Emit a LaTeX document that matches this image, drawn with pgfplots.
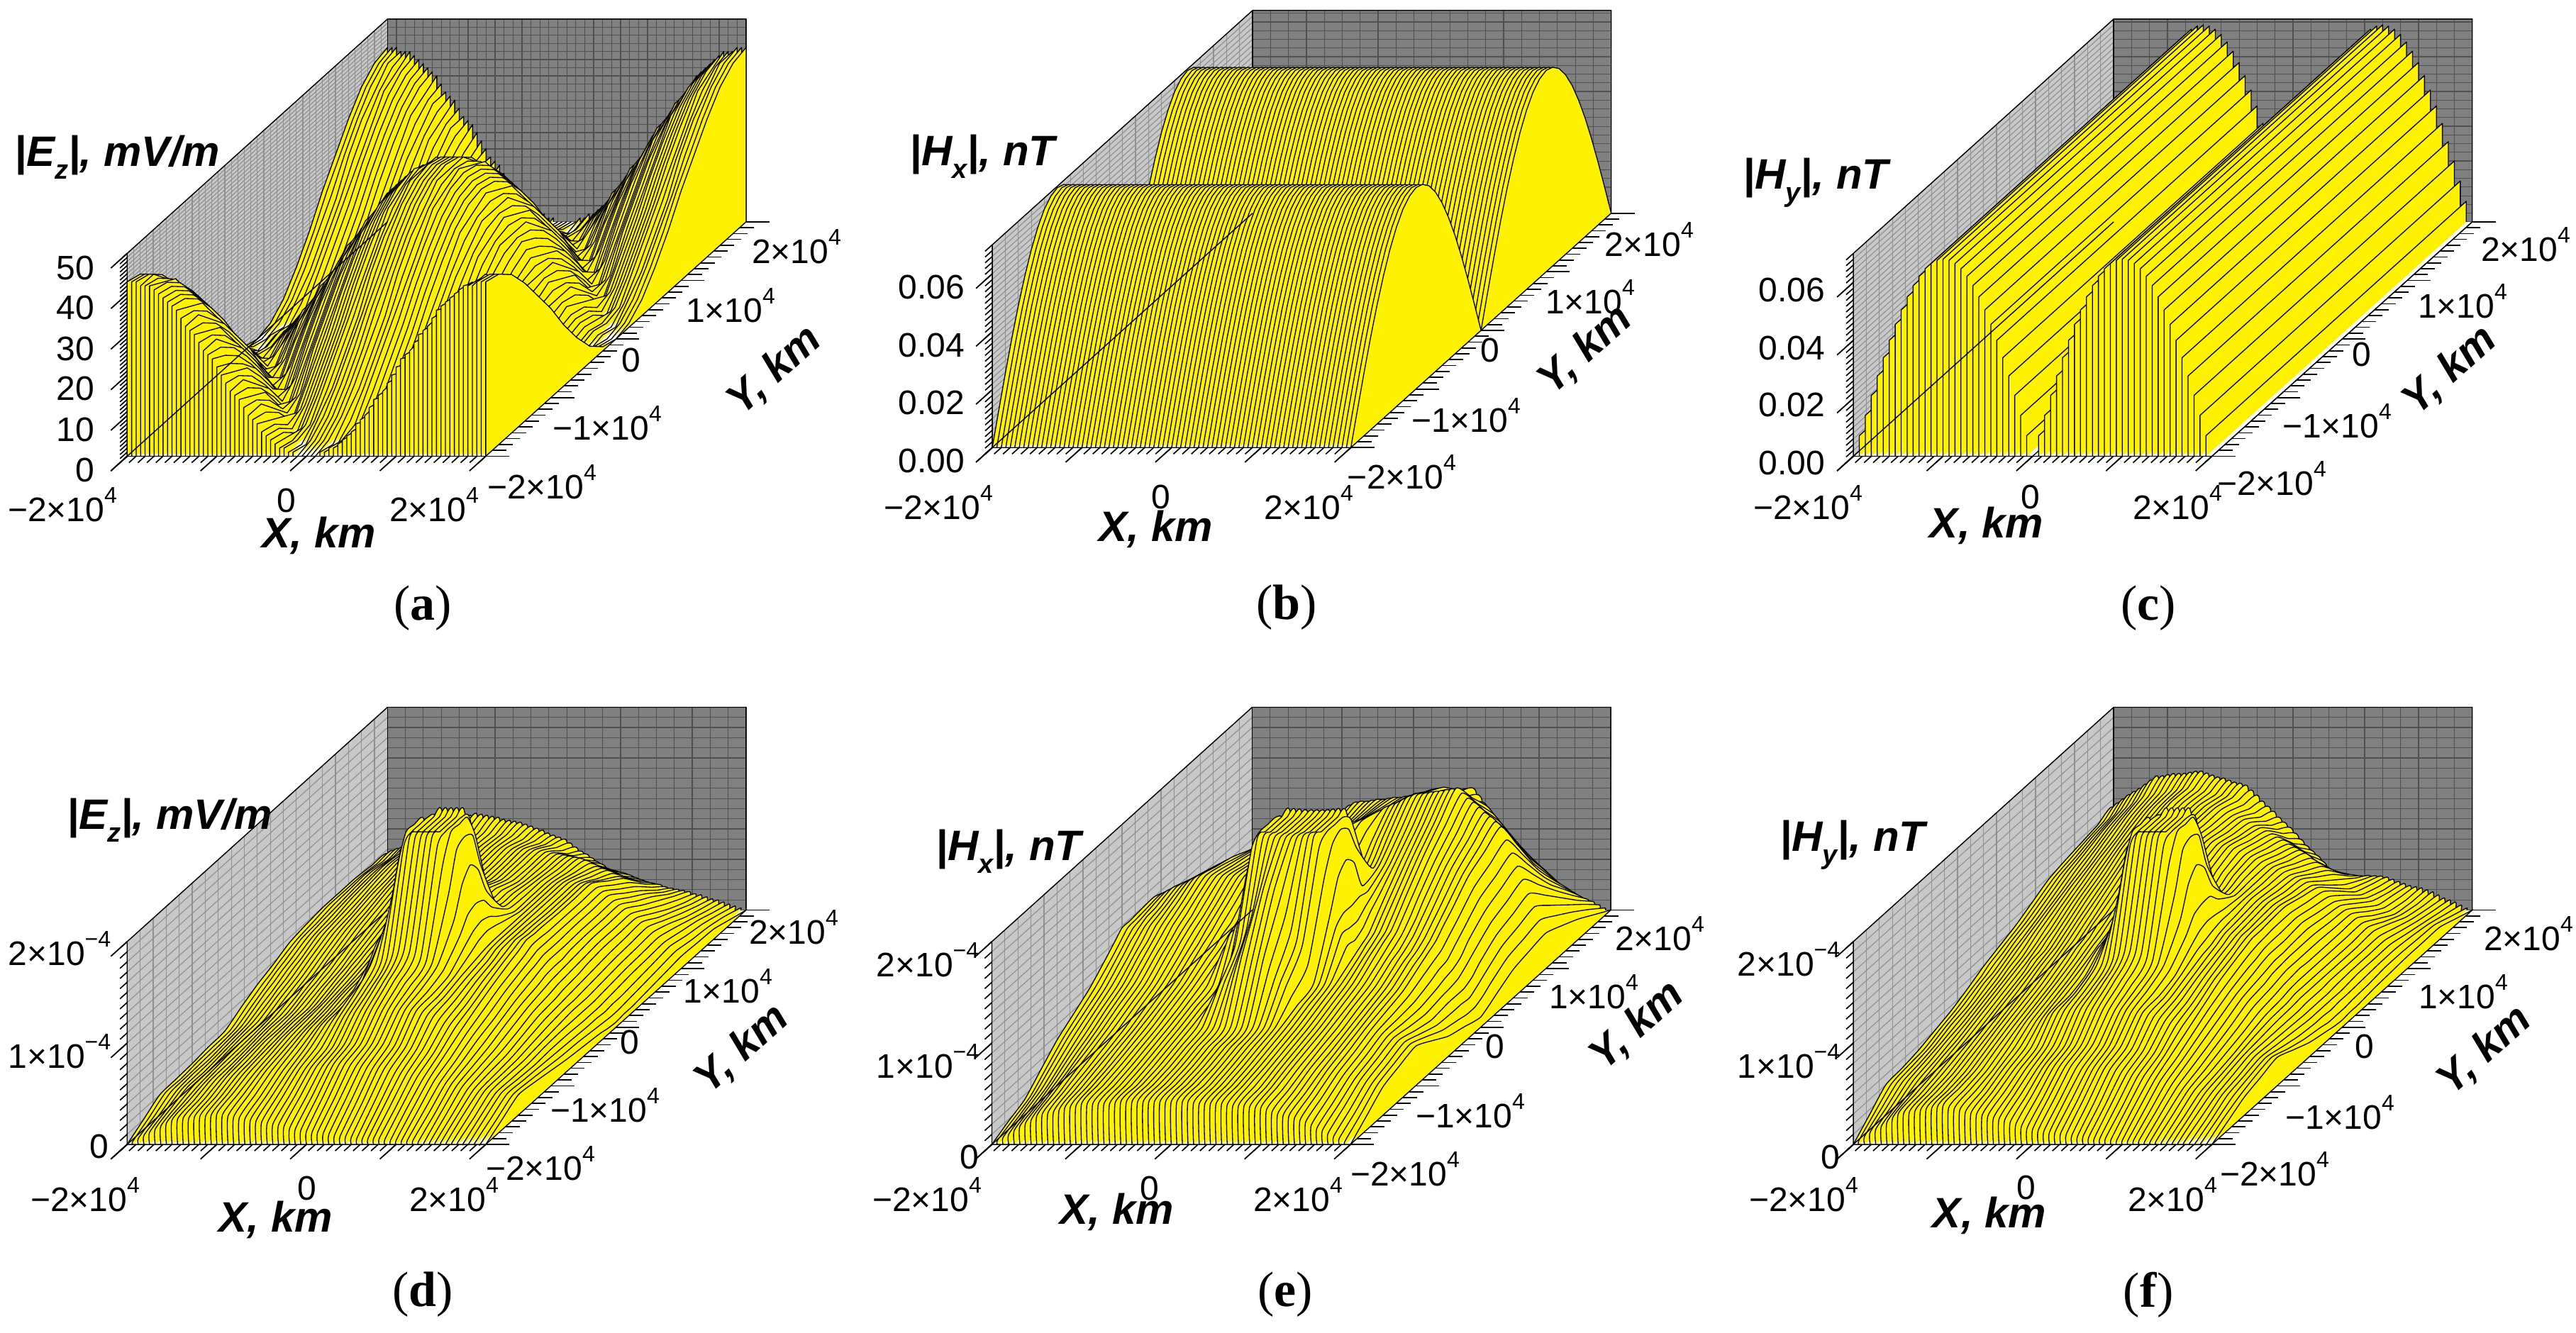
\documentclass[border=0pt]{standalone}
\usepackage{fontspec}
\usepackage{pgfplots}
\usepackage{pgfplotstable}
\pgfplotsset{compat=1.18}
\setmainfont{Liberation Sans}
\newfontfamily\capfont{Liberation Serif}
\definecolor{wallL}{HTML}{C8C8C8}
\definecolor{wallB}{HTML}{808080}
\definecolor{gridL}{HTML}{909090}
\definecolor{gridB}{HTML}{505050}
\pgfplotsset{
  slc/.style={fill=yellow,draw=black,line width=0.33pt,line join=round,mark=none,solid},
  slcs/.style={slc,smooth,tension=0.35},
  cube/.style={hide axis,clip=false,anchor=origin,xmin=-2,xmax=2,ymin=-2,ymax=2,zmin=0},
}
\pgfplotstableread[header=false]{
-2 0 0 0 0 0 0 0 0 0 0 0 0 0 0 0 0 0 0 0 0 0 0 0 0 0 0 0 0 0 0 0 0 0 0 0 0 0 0 0 0 0
-2 0 0 0 1 1 2 2 3 4 5 6 8 9 10 12 14 15 16 18 20 22 24 25 26 28 30 31 32 34 36 37 38 39 40 41 42 42 42 43 43 43
-1.8 1 1 1 0 0 1 1 2 3 4 5 6 8 10 11 12 14 16 17 18 20 22 24 26 27 28 30 32 33 34 36 37 38 39 40 40 41 42 42 42 42
-1.6 4 4 4 4 3 2 2 1 0 1 2 4 5 6 8 10 11 12 14 16 17 19 21 22 24 26 27 28 30 32 33 34 35 36 37 38 38 38 39 39 39
-1.4 9 9 9 8 8 8 7 6 5 4 3 2 0 2 3 4 6 8 9 11 13 14 16 18 19 20 22 24 25 26 28 29 30 31 32 32 33 34 34 34 34
-1.2 15 15 15 14 14 14 13 12 11 10 9 8 6 4 3 2 0 2 3 5 7 8 10 12 13 14 16 18 19 20 22 23 24 25 26 26 27 28 28 28 28
-1 22 22 21 20 20 20 19 18 17 16 15 14 13 12 10 8 7 5 3 2 0 2 3 5 7 8 10 12 13 14 15 16 17 18 19 20 20 20 21 22 22
-0.8 28 28 28 28 27 26 26 25 24 23 22 20 19 18 16 14 13 12 10 8 7 5 3 2 0 2 3 4 6 8 9 10 11 12 13 14 14 14 15 15 15
-0.6 34 34 34 34 33 32 32 31 30 29 28 26 25 24 22 20 19 18 16 14 13 11 9 8 6 4 3 2 0 2 3 4 5 6 7 8 8 8 9 9 9
-0.4 39 39 39 38 38 38 37 36 35 34 33 32 30 28 27 26 24 22 21 19 17 16 14 12 11 10 8 6 5 4 2 1 0 1 2 2 3 4 4 4 4
-0.2 42 42 42 42 41 40 40 39 38 37 36 34 33 32 30 28 27 26 24 22 20 18 17 16 14 12 11 10 8 6 5 4 3 2 1 1 0 0 1 1 1
0 43 43 43 42 42 42 41 40 39 38 37 36 34 32 31 30 28 26 25 24 22 20 18 16 15 14 12 10 9 8 6 5 4 3 2 2 1 1 0 0 0
0.2 42 42 42 42 41 40 40 39 38 37 36 34 33 32 30 28 27 26 24 22 20 18 17 16 14 12 11 10 8 6 5 4 3 2 1 1 0 0 1 1 1
0.4 39 39 39 38 38 38 37 36 35 34 33 32 30 28 27 26 24 22 21 19 17 16 14 12 11 10 8 6 5 4 2 1 0 1 2 2 3 4 4 4 4
0.6 34 34 34 34 33 32 32 31 30 29 28 26 25 24 22 20 19 18 16 14 13 11 9 8 6 4 3 2 0 2 3 4 5 6 7 8 8 8 9 9 9
0.8 28 28 28 28 27 26 26 25 24 23 22 20 19 18 16 14 13 12 10 8 7 5 3 2 0 2 3 4 6 8 9 10 11 12 13 14 14 14 15 15 15
1 22 22 21 20 20 20 19 18 17 16 15 14 13 12 10 8 7 5 3 2 0 2 3 5 7 8 10 12 13 14 15 16 17 18 19 20 20 20 21 22 22
1.2 15 15 15 14 14 14 13 12 11 10 9 8 6 4 3 2 0 2 3 5 7 8 10 12 13 14 16 18 19 20 22 23 24 25 26 26 27 28 28 28 28
1.4 9 9 9 8 8 8 7 6 5 4 3 2 0 2 3 4 6 8 9 11 13 14 16 18 19 20 22 24 25 26 28 29 30 31 32 32 33 34 34 34 34
1.6 4 4 4 4 3 2 2 1 0 1 2 4 5 6 8 10 11 12 14 16 17 19 21 22 24 26 27 28 30 32 33 34 35 36 37 38 38 38 39 39 39
1.8 1 1 1 0 0 1 1 2 3 4 5 6 8 10 11 12 14 16 17 18 20 22 24 26 27 28 30 32 33 34 36 37 38 39 40 40 41 42 42 42 42
2 0 0 0 1 1 2 2 3 4 5 6 8 9 10 12 14 15 16 18 20 22 24 25 26 28 30 31 32 34 36 37 38 39 40 41 42 42 42 43 43 43
2 0 0 0 0 0 0 0 0 0 0 0 0 0 0 0 0 0 0 0 0 0 0 0 0 0 0 0 0 0 0 0 0 0 0 0 0 0 0 0 0 0
}\tA
\pgfplotstableread[header=false]{
-2 0
-1.9 10.9
-1.8 21.5
-1.7 31.6
-1.6 40.9
-1.5 49.1
-1.4 56.2
-1.3 61.9
-1.2 66.1
-1.1 68.6
-1 69.5
-0.9 68.6
-0.8 66.1
-0.7 61.9
-0.6 56.2
-0.5 49.1
-0.4 40.9
-0.3 31.6
-0.2 21.5
-0.1 10.9
0 0
0.1 10.9
0.2 21.5
0.3 31.6
0.4 40.9
0.5 49.1
0.6 56.2
0.7 61.9
0.8 66.1
0.9 68.6
1 69.5
1.1 68.6
1.2 66.1
1.3 61.9
1.4 56.2
1.5 49.1
1.6 40.9
1.7 31.6
1.8 21.5
1.9 10.9
2 0
}\tB
\pgfplotstableread[header=false]{
-2 0 0 0 0 0 0 0 0 0 0 0 0 0 0 0 0
-2 0 7.1 14.1 21 27.7 34 40 45.5 50.5 55 58.9 62.1 64.7 66.5 67.6 68
2 0 7.1 14.1 21 27.7 34 40 45.5 50.5 55 58.9 62.1 64.7 66.5 67.6 68
2 0 0 0 0 0 0 0 0 0 0 0 0 0 0 0 0
}\tC
\pgfplotstableread[header=false]{
-2 0 0 0 0 0 0 0 0  0 0 0 0 0 0 0 0  0 0 0 0 0 0 0 0  0 0 0 0 0 0 0 0  0 0 0 0 0 0 0 0  0 0 0 0 0 0 0 0  0 0 0 0 0 0 0 0  0 0 0 0 0 0 0 0  0
-2 0 3 6 9 12 15 18 21  24 25 26 26 27 28 28 29  30 29 28 27 26 25 24 23  22 21 20 19 18 16 15 14  13 12 12 11 10 9 8 8  7 6 6 6 6 6 5 4  4 4 4 4 3 2 2 2  2 2 2 2 1 1 1 0  0
-1.75 10 12 14 16 19 22 24 26  28 29 30 31 32 33 34 35  36 36 36 36 35 34 34 34  34 34 33 33 33 32 32 32  32 31 30 30 29 28 27 26  26 25 24 24 23 22 22 21  20 19 18 17 16 16 15 14  14 14 13 12 12 12 11 10  10
-1.5 20 22 23 24 26 28 29 30  32 34 35 36 38 39 40 41  42 42 43 44 44 44 44 44  45 46 46 47 48 48 49 50  50 50 49 48 48 47 46 46  45 44 42 41 40 39 38 36  35 34 32 31 30 29 28 26  25 24 24 23 22 22 21 20  20
-1.25 21 22 24 26 27 28 30 32  34 35 36 38 40 41 42 44  45 46 47 48 49 50 50 51  52 52 52 52 53 54 55 56  56 56 56 56 56 56 55 54  54 53 52 51 50 48 47 46  45 42 40 38 36 34 32 30  28 26 25 24 22 21 20 19  18
-1 22 24 25 26 28 30 32 34  35 36 38 40 42 44 45 46  48 50 51 52 54 56 57 60  62 64 66 68 70 72 73 74  75 75 75 75 75 75 75 74  74 72 70 68 65 62 60 58  55 52 49 46 42 39 36 33  30 28 26 24 22 20 19 17  15
-0.75 24 25 26 28 30 32 34 35  36 38 40 42 43 44 46 48  49 51 53 54 56 58 60 62  64 72 76 78 80 82 85 86  88 88 87 86 84 82 81 78  76 74 73 72 70 68 66 65  64 60 56 52 49 46 42 38  35 32 29 26 24 21 18 15  12
-0.5 25 26 28 30 32 34 35 36  38 40 41 42 44 46 47 48  50 52 55 57 59 62 64 66  68 79 90 92 95 98 102 104  105 104 102 98 95 92 90 85  80 79 78 77 76 75 74 73  72 68 64 60 56 52 48 44  40 36 32 28 25 21 17 14  10
-0.25 34 35 36 38 39 40 42 43  44 45 46 48 50 51 52 54  55 57 59 60 62 64 66 80  95 104 120 145 175 192 200 200  200 200 200 192 175 145 120 104  95 88 82 81 80 80 80 80  79 74 70 66 61 56 52 47  42 38 34 30 25 20 16 12  8
-0.125 38 39 40 42 42 44 45 46  47 48 50 51 52 54 54 56  58 59 61 62 64 66 68 93  102 118 148 182 200 200 200 200  200 200 200 200 200 182 148 118  102 93 84 84 84 84 83 83  82 77 73 68 64 59 54 49  44 39 34 30 25 20 16 11  6
0 42 43 44 45 46 47 48 49  50 51 52 54 55 56 57 58  60 62 63 64 66 68 69 95  105 122 160 188 200 200 200 200  200 200 200 200 200 188 160 122  105 95 85 85 85 85 86 86  86 81 76 71 66 60 55 50  45 40 35 30 25 20 15 10  5
0.125 45 46 48 49 50 51 52 53  54 55 56 58 58 60 60 62  63 64 66 67 68 70 72 93  102 118 148 182 200 200 200 200  200 200 200 200 200 182 148 118  102 93 85 85 85 85 85 85  85 81 76 71 66 60 56 51  46 41 36 31 26 21 16 10  6
0.25 48 50 51 52 53 54 56 57  58 59 60 61 62 63 64 65  66 67 68 70 71 72 74 84  95 104 120 145 175 192 200 200  200 200 200 192 175 145 120 104  95 90 85 85 85 85 85 85  85 80 76 71 66 62 57 52  48 42 37 32 27 22 16 11  6
0.5 55 56 58 59 60 62 63 64  65 66 67 68 69 70 70 71  72 73 74 75 76 77 78 79  80 85 90 92 95 98 102 104  105 104 102 98 95 92 90 88  85 85 85 85 85 84 84 84  84 80 76 72 67 63 59 54  50 44 39 34 29 24 18 13  8
0.75 58 59 60 62 63 64 66 67  68 70 71 72 74 75 76 77  78 79 80 80 81 82 82 83  84 86 89 90 92 94 95 96  96 95 94 92 90 89 88 86  85 85 85 85 85 84 84 84  84 80 76 72 67 63 59 54  50 45 40 35 30 25 20 15  10
1 60 62 63 64 66 68 69 70  72 74 75 77 79 80 82 84  85 86 86 86 86 86 87 88  88 88 88 88 88 88 88 88  88 88 87 86 86 86 86 86  85 85 85 85 85 84 84 84  84 80 76 72 67 63 59 54  50 46 41 36 31 26 22 17  12
1.25 60 62 64 66 68 70 72 74  75 76 78 80 82 83 84 86  88 88 88 88 88 88 88 88  89 89 89 88 88 88 88 88  88 87 86 86 85 84 84 83  82 81 80 79 78 76 74 73  72 68 64 60 56 52 48 44  40 36 33 30 26 22 18 14  11
1.5 60 62 65 67 69 72 74 76  78 80 81 82 84 86 87 88  90 90 90 90 90 90 90 90  90 90 90 90 89 89 89 88  88 87 86 85 84 83 82 81  80 78 75 72 70 68 65 62  60 56 52 48 45 42 38 34  30 28 25 22 20 18 15 12  10
1.75 58 60 62 64 67 70 72 74  76 78 80 82 84 86 88 90  92 92 91 90 90 89 88 88  88 87 86 84 83 82 80 79  78 76 73 70 68 66 64 62  59 57 55 53 51 48 46 44  42 40 37 34 32 30 28 25  22 20 18 16 14 12 10 8  5
2 55 58 60 62 65 68 70 72  75 78 80 82 85 87 89 92  94 93 92 91 90 88 87 86  85 83 81 79 77 74 72 70  68 64 60 56 53 49 45 42  38 36 35 34 32 30 28 26  25 24 22 21 20 19 18 16  15 13 11 10 8 6 4 2  0
2 0 0 0 0 0 0 0 0  0 0 0 0 0 0 0 0  0 0 0 0 0 0 0 0  0 0 0 0 0 0 0 0  0 0 0 0 0 0 0 0  0 0 0 0 0 0 0 0  0 0 0 0 0 0 0 0  0 0 0 0 0 0 0 0  0
}\tD
\pgfplotstableread[header=false]{
-2 0 0 0 0 0 0 0 0  0 0 0 0 0 0 0 0  0 0 0 0 0 0 0 0  0 0 0 0 0 0 0 0  0 0 0 0 0 0 0 0  0 0 0 0 0 0 0 0  0 0 0 0 0 0 0 0  0 0 0 0 0 0 0 0  0
-2 0 4 7 10 14 18 21 24  28 30 31 32 34 36 37 38  40 40 40 40 40 40 41 42  42 42 42 42 42 42 42 42  42 42 42 42 41 40 40 40  40 40 39 38 38 38 37 36  36 34 32 30 29 28 26 24  22 19 16 14 11 8 6 3  0
-1.75 8 11 14 18 21 24 28 32  35 36 38 39 40 41 42 43  44 44 44 44 44 44 44 44  45 45 45 45 45 45 45 45  45 45 45 44 44 44 44 44  44 44 44 44 43 42 42 42  42 40 39 38 37 36 35 34  32 30 27 25 23 20 18 16  14
-1.5 15 18 22 25 28 32 35 38  42 43 44 44 45 46 46 47  48 48 48 48 48 48 48 48  48 48 48 48 48 48 48 48  48 48 48 48 48 48 48 48  48 48 48 48 48 48 48 48  48 47 46 46 45 44 44 43  42 40 38 36 35 33 31 30  28
-1.25 30 32 35 37 39 42 44 46  48 49 50 50 50 51 52 52  53 53 53 53 53 53 53 53  53 53 53 53 53 53 53 53  53 53 53 53 53 53 53 53  53 53 53 53 53 53 53 53  53 52 52 51 50 50 50 49  48 46 44 42 41 39 37 36  34
-1 45 46 48 49 50 51 52 54  55 56 56 56 56 56 57 58  58 58 58 58 58 58 58 58  58 58 58 58 58 58 58 58  58 58 58 58 58 58 58 58  58 58 58 58 58 58 58 58  58 58 57 56 56 56 56 56  55 53 51 49 47 45 43 41  39
-0.75 56 57 58 59 60 61 62 63  64 64 64 64 64 64 64 64  65 65 65 64 64 64 64 64  64 74 84 88 92 102 112 112  112 112 112 102 92 88 84 74  65 65 65 65 65 65 65 65  65 64 64 63 62 62 62 61  60 56 52 48 44 40 37 34  30
-0.5 67 68 68 69 70 70 71 72  72 72 72 72 72 72 72 72  72 72 72 72 71 70 70 70  70 90 110 115 125 140 155 165  165 165 155 140 125 115 110 91  72 72 72 72 72 72 72 72  72 71 70 69 68 68 67 66  65 60 54 48 42 36 31 26  20
-0.25 82 82 83 84 84 85 86 86  86 86 86 86 85 84 84 84  84 83 82 81 80 92 105 112  125 162 190 200 200 200 200 200  200 200 200 200 200 200 190 162  125 112 105 94 82 82 83 84  84 82 81 80 79 78 78 76  75 68 60 52 45 38 30 22  15
-0.125 90 90 91 92 92 92 92 93  93 92 92 92 92 91 90 89  90 88 86 85 85 95 105 120  155 188 200 200 200 200 200 200  200 200 200 200 200 200 200 188  155 120 105 93 87 88 88 89  90 88 86 84 84 82 82 80  80 72 64 55 46 38 30 20  12
0 98 98 98 98 99 100 100 100  100 100 99 98 98 97 96 96  95 94 92 91 90 97 105 120  165 195 200 200 200 200 200 200  200 200 200 200 200 200 200 195  165 120 105 98 92 93 94 94  95 94 92 91 90 89 88 86  85 76 66 57 48 38 29 20  10
0.125 98 99 100 102 102 103 104 105  105 105 104 103 103 102 102 102  102 100 96 96 96 102 108 122  155 188 200 200 200 200 200 200  200 200 200 200 200 200 200 188  155 122 112 108 103 104 105 105  106 105 102 100 100 98 97 95  94 84 74 62 54 42 34 24  14
0.25 99 100 102 103 104 106 108 109  110 110 110 110 109 108 108 108  108 106 104 102 101 103 105 112  125 162 190 200 200 200 200 200  200 200 200 200 200 200 190 162  125 120 118 116 114 115 116 117  118 116 114 112 110 108 106 104  102 92 82 72 61 50 40 30  19
0.5 100 102 105 108 110 112 115 118  120 120 120 120 120 120 120 120  120 118 116 114 112 110 109 107  105 108 110 115 125 140 155 165  165 165 155 140 125 126 127 128  130 131 132 134 135 136 138 139  140 138 135 132 130 128 125 122  120 109 98 86 74 62 51 40  28
0.75 92 95 98 101 104 107 110 112  115 116 116 116 116 116 117 118  118 118 117 116 116 116 116 116  115 118 120 126 132 144 155 156  158 159 160 151 142 144 146 148  150 151 152 153 154 156 157 158  159 156 152 148 144 141 138 134  130 118 106 94 81 68 56 44  32
1 85 88 91 94 98 101 104 107  110 110 111 112 112 113 114 114  115 116 118 119 120 121 122 124  125 128 131 134 138 141 144 147  150 152 155 158 160 162 165 168  170 171 172 173 174 175 176 177  178 173 168 164 159 154 150 145  140 127 114 101 88 74 61 48  35
1.25 72 76 80 84 88 92 95 98  102 104 106 106 107 108 110 111  112 114 117 119 121 123 125 128  130 132 134 136 138 140 142 144  145 146 148 150 152 154 156 158  160 159 158 158 157 156 156 155  154 148 142 136 130 125 120 114  108 98 88 78 68 58 48 38  28
1.5 60 64 69 74 78 82 86 90  95 98 100 101 102 104 105 108  110 113 116 119 122 125 128 132  135 136 136 137 138 138 139 140  140 141 142 144 145 146 148 149  150 148 145 142 140 138 135 132  130 123 116 109 102 96 89 82  75 68 61 54 48 41 34 27  20
1.75 50 54 59 64 68 72 76 80  85 88 90 91 92 94 96 98  100 102 104 106 108 110 113 116  118 118 118 119 120 121 122 122  122 124 125 126 128 129 130 131  132 127 122 118 113 108 103 98  93 88 82 76 70 64 59 54  48 43 38 34 29 24 20 15  10
2 40 44 49 54 58 62 66 70  75 77 79 80 82 84 86 88  90 91 92 94 95 96 98 99  100 100 101 102 102 103 104 104  105 106 108 109 110 111 112 114  115 108 100 93 86 78 71 64  56 52 47 42 38 34 29 24  20 18 15 12 10 8 5 2  0
2 0 0 0 0 0 0 0 0  0 0 0 0 0 0 0 0  0 0 0 0 0 0 0 0  0 0 0 0 0 0 0 0  0 0 0 0 0 0 0 0  0 0 0 0 0 0 0 0  0 0 0 0 0 0 0 0  0 0 0 0 0 0 0 0  0
}\tE
\pgfplotstableread[header=false]{
-2 0 0 0 0 0 0 0 0  0 0 0 0 0 0 0 0  0 0 0 0 0 0 0 0  0 0 0 0 0 0 0 0  0 0 0 0 0 0 0 0  0 0 0 0 0 0 0 0  0 0 0 0 0 0 0 0  0 0 0 0 0 0 0 0  0
-2 0 4 8 12 15 18 22 26  30 31 32 33 34 35 36 37  38 36 35 34 32 31 30 29  28 26 25 24 22 20 18 16  15 14 13 12 12 11 10 9  8 8 7 6 6 6 5 4  4 4 4 4 3 3 3 2  2 2 2 2 1 1 1 0  0
-1.75 15 18 20 22 24 26 29 32  34 35 36 37 38 38 39 40  41 40 40 39 38 38 38 38  37 36 36 35 34 34 33 32  32 31 30 30 29 28 28 27  26 25 24 24 23 22 22 21  20 19 18 17 16 15 14 13  12 12 12 11 10 10 10 10  9
-1.5 30 31 32 33 34 35 36 37  38 39 40 40 41 42 42 43  44 44 44 44 45 46 46 46  46 46 46 46 47 48 48 48  48 48 47 46 46 46 46 46  45 44 42 41 40 39 38 36  35 34 32 30 28 26 25 24  22 22 21 20 20 20 19 18  18
-1.25 32 34 35 36 38 39 40 42  43 44 45 46 47 48 49 50  51 52 52 52 52 52 52 52  52 53 54 54 54 54 55 55  55 55 55 54 54 54 54 53  52 51 50 49 48 47 46 46  45 42 40 38 35 32 30 28  26 26 26 25 24 24 24 24  23
-1 35 36 38 40 42 44 45 46  48 49 50 52 53 54 56 57  58 59 60 62 63 64 66 69  72 73 74 74 75 76 76 76  76 76 75 74 74 74 73 72  72 70 68 66 64 62 60 58  55 52 49 46 42 39 36 33  30 30 30 30 29 28 28 28  28
-0.75 40 42 44 46 47 48 50 52  54 55 56 58 59 60 62 63  64 65 66 68 69 70 72 73  74 77 80 81 82 84 86 87  88 87 86 84 82 81 80 77  74 73 72 71 70 68 67 66  65 62 58 54 50 46 42 38  35 34 32 30 28 26 24 22  21
-0.5 45 47 49 50 52 54 56 58  60 61 62 64 65 66 68 69  70 71 72 74 75 76 78 79  80 85 90 92 95 98 102 104  105 104 102 98 95 92 90 85  80 80 79 78 78 77 76 76  75 70 66 62 58 54 49 44  40 37 34 30 27 24 20 17  14
-0.25 52 54 56 58 59 60 62 64  66 67 68 70 72 74 75 76  78 79 80 81 82 84 85 90  95 104 120 145 175 192 200 200  200 200 200 192 175 145 120 104  95 90 86 85 84 84 83 82  82 77 72 67 62 57 52 47  42 38 35 30 26 22 18 14  10
-0.125 56 57 59 60 62 64 66 67  69 70 73 74 75 77 78 80  82 83 85 86 86 88 89 93  102 118 148 182 200 200 200 200  200 200 200 200 200 182 148 118  102 93 88 88 87 87 86 86  85 80 74 70 64 60 54 49  44 40 36 31 26 22 18 12  8
0 60 62 63 64 66 68 69 70  72 74 75 76 78 80 82 84  85 86 88 89 90 91 92 96  105 122 160 188 200 200 200 200  200 200 200 200 200 188 160 122  105 96 92 92 91 90 90 89  88 82 77 72 66 61 56 50  45 40 36 31 26 22 17 12  7
0.125 63 65 66 68 70 72 73 75  76 78 80 81 83 85 87 89  90 91 94 95 94 96 96 100  108 122 150 182 200 200 200 200  200 200 200 200 200 182 150 122  104 98 94 93 92 91 90 90  88 83 78 72 66 62 56 51  45 40 36 31 26 22 18 12  8
0.25 66 68 70 72 73 76 78 80  81 82 84 86 88 90 92 94  95 96 98 98 99 100 101 106  110 114 125 145 175 192 200 200  200 200 200 192 175 145 125 112  102 98 95 94 93 92 91 90  89 84 78 72 67 62 56 50  45 40 36 32 27 22 18 13  8
0.5 72 74 76 78 80 83 86 88  90 92 94 96 98 100 101 103  105 106 107 108 108 109 110 111  112 112 111 110 110 110 109 108  108 107 106 105 104 103 102 101  100 99 98 96 95 94 92 91  90 84 79 74 68 62 56 50  45 40 36 32 28 24 19 14  10
0.75 80 82 84 86 88 90 93 96  98 100 102 104 106 108 110 112  115 116 116 117 118 119 120 120  121 120 120 119 118 117 116 115  114 112 110 108 107 106 104 102  100 98 96 94 92 90 88 86  85 80 75 70 65 60 55 50  45 40 36 32 28 24 20 16  11
1 88 90 92 94 96 98 100 102  105 108 110 112 115 118 120 122  125 126 126 127 128 128 129 130  130 129 128 126 125 124 122 121  120 118 115 112 110 108 105 102  100 98 95 92 90 88 85 82  80 76 71 66 62 58 54 50  45 41 37 32 28 24 20 16  12
1.25 92 94 96 99 102 104 107 110  112 114 117 120 122 124 126 128  130 130 130 130 130 130 130 130  130 128 126 124 122 120 118 116  115 112 110 107 104 101 98 95  92 89 86 82 79 76 72 68  65 62 58 54 50 46 42 38  35 32 30 26 23 20 18 15  12
1.5 95 98 101 104 108 111 114 117  120 122 124 126 128 130 131 133  135 134 134 133 132 132 131 130  130 128 125 122 120 118 115 112  110 107 104 101 98 94 91 88  85 80 76 72 68 64 59 54  50 47 44 41 38 34 31 28  25 24 22 20 18 16 15 14  12
1.75 98 101 104 108 112 115 118 122  125 126 128 129 130 131 132 133  134 133 132 131 130 128 127 126  125 122 118 114 110 106 102 98  94 90 85 80 76 72 68 63  58 56 54 52 50 48 46 44  42 40 37 34 32 30 27 24  22 20 18 16 14 12 10 8  6
2 100 104 108 112 115 118 122 126  130 130 131 132 132 132 133 134  134 132 130 128 127 125 123 122  120 115 110 104 99 94 88 83  78 72 66 60 55 50 44 38  32 32 32 32 32 32 33 33  33 32 30 28 26 24 23 22  20 18 15 12 10 8 5 2  0
2 0 0 0 0 0 0 0 0  0 0 0 0 0 0 0 0  0 0 0 0 0 0 0 0  0 0 0 0 0 0 0 0  0 0 0 0 0 0 0 0  0 0 0 0 0 0 0 0  0 0 0 0 0 0 0 0  0 0 0 0 0 0 0 0  0
}\tF
% one curtain per x value
\newcommand\slc[3]{\addplot3[slc,forget plot] table[x expr={#2},y index=0,z index=#1]{#3};}
% the walls, their grids and the ticks
\newcommand\chrome[6]{%
 \fill[wallL] (axis cs:-2,-2,0)--(axis cs:-2,2,0)--(axis cs:-2,2,#1)--(axis cs:-2,-2,#1)--cycle;
 \fill[wallB] (axis cs:-2,2,0)--(axis cs:2,2,0)--(axis cs:2,2,#1)--(axis cs:-2,2,#1)--cycle;
 \pgfplotsinvokeforeach{#4}{%
  \draw[gridL,line width=0.3pt] (axis cs:-2,##1,0)--(axis cs:-2,##1,#1);
  \draw[gridB,line width=0.3pt] (axis cs:##1,2,0)--(axis cs:##1,2,#1);}
 \pgfplotsinvokeforeach{#2}{\draw[gridL,line width=0.3pt] (axis cs:-2,-2,##1)--(axis cs:-2,2,##1);}
 \pgfplotsinvokeforeach{#3}{\draw[gridB,line width=0.3pt] (axis cs:-2,2,##1)--(axis cs:2,2,##1);}
 \pgfplotsinvokeforeach{-2,-1.9,...,2}{%
  \draw[black,line width=0.42pt] (axis cs:##1,-2,0)--(axis cs:##1,-2.11,0);
  \draw[black,line width=0.42pt] (axis cs:2,##1,0)--(axis cs:2.16,##1,0);}
 \pgfplotsinvokeforeach{-2,-1,0,1,2}{%
  \draw[black,line width=0.45pt] (axis cs:##1,-2,0)--(axis cs:##1,-2.25,0);
  \draw[black,line width=0.45pt] (axis cs:2,##1,0)--(axis cs:2.26,##1,0);}
 \pgfplotsinvokeforeach{#5}{\draw[black,line width=0.42pt] (axis cs:-2,-2,##1)--(axis cs:-2,-2.11,##1);}
 \pgfplotsinvokeforeach{#6}{\draw[black,line width=0.45pt] (axis cs:-2,-2,##1)--(axis cs:-2,-2.25,##1);}
 \draw[black,line width=0.35pt] (axis cs:-2,-2,0)--(axis cs:-2,-2,#1)--(axis cs:-2,2,#1)--(axis cs:2,2,#1)--(axis cs:2,2,0);
 \draw[black,line width=0.35pt] (axis cs:-2,2,0)--(axis cs:-2,2,#1);
}
\newcommand\flr{%
 \draw[black,line width=0.35pt] (axis cs:-2,-2,0)--(axis cs:-2,2,0);
 \draw[black,line width=0.35pt] (axis cs:-2,-2,0)--(axis cs:2,-2,0)--(axis cs:2,2,0);
}
\newcommand\curtains[1]{%
 \pgfplotsinvokeforeach{1,...,65}{%
  \addplot3[slcs,forget plot] table[x expr={-2+(##1-1)/16},y index=0,z index=##1]{#1};}
}
% text placed at pixel positions of the 3632x1880 frame
\newcommand\tkf{\fontsize{12}{12}\selectfont}
\newcommand\ttf{\fontsize{15}{16}\selectfont\bfseries\itshape}
\newcommand\EE[2]{#1×10\raisebox{0.55em}{\fontsize{8}{8}\selectfont #2}}
\newcommand\tkc[3]{\node[inner sep=0pt,anchor=center] at ({#1*0.25pt},{(1880-#2)*0.25pt}) {\tkf #3};}
\newcommand\tkr[3]{\node[inner sep=0pt,anchor=east] at ({#1*0.25pt},{(1880-#2)*0.25pt}) {\tkf #3};}
\newcommand\ttl[3]{\node[inner sep=0pt,anchor=center] at ({#1*0.25pt},{(1880-#2)*0.25pt}) {\ttf #3};}
\newcommand\tky[2]{\node[inner sep=0pt,anchor=center,rotate=42] at ({#1*0.25pt},{(1880-#2)*0.25pt}) {\ttf Y, km};}
\newcommand\capn[3]{\node[inner sep=0pt,anchor=center] at ({#1*0.25pt},{(1880-#2)*0.25pt}) {\capfont\fontsize{17.5}{18}\selectfont (\textbf{#3})};}
\newcommand\sbs[1]{\raisebox{-0.3em}{\fontsize{9.5}{10}\selectfont #1}}
\begin{document}
\begin{tikzpicture}
\path[use as bounding box] (0pt,0pt) rectangle (908pt,470pt);
% (a)
\begin{axis}[cube,at={(153.9pt,350.45pt)},x={(31.6pt,0pt)},y={(22.94pt,20.66pt)},z={(0pt,1.43pt)},zmax=50]
\chrome{50}{0,1,...,50}{0,2,...,50}{-2,-1.9,...,2}{0,1,...,50}{0,10,...,50}
\pgfplotsinvokeforeach{41,40,...,2}{\slc{#1}{-0.05*(#1-1)}{\tA}}
\pgfplotsinvokeforeach{1,...,41}{\slc{#1}{0.05*(#1-1)}{\tA}}
\flr
\end{axis}
% (b)
\begin{axis}[cube,at={(458.84pt,353.5pt)},x={(31.6pt,0pt)},y={(22.94pt,20.66pt)},z={(0pt,1.0214pt)},zmax=70]
\chrome{70}{0,2,...,70}{0,3,...,69}{-2,-1.8,...,2}{0,2,...,70}{0,20,40,60}
\pgfplotsinvokeforeach{0,...,80}{\addplot3[slc,forget plot] table[x expr={-2+0.05*#1},y index=0,z index=1]{\tB};}
\flr
\end{axis}
% (c)
\begin{axis}[cube,at={(762.35pt,350.45pt)},x={(31.6pt,0pt)},y={(22.94pt,20.66pt)},z={(0pt,1.0214pt)},zmax=70]
\chrome{70}{0,2,...,70}{0,3,...,69}{-2,-1.8,...,2}{0,2,...,70}{0,20,40,60}
\pgfplotsinvokeforeach{1,...,16}{\slc{#1}{-2+(#1-1)/15}{\tC}}
\pgfplotsinvokeforeach{15,14,...,1}{\slc{#1}{-(#1-1)/15}{\tC}}
\pgfplotsinvokeforeach{2,...,16}{\slc{#1}{(#1-1)/15}{\tC}}
\pgfplotsinvokeforeach{15,14,...,1}{\slc{#1}{2-(#1-1)/15}{\tC}}
\flr
\end{axis}
% (d)
\begin{axis}[cube,at={(153.9pt,107.8pt)},x={(31.6pt,0pt)},y={(22.94pt,20.66pt)},z={(0pt,0.3575pt)},zmax=200]
\chrome{200}{0,10,...,200}{0,10,...,200}{-2,-1.8,...,2}{0,10,...,200}{0,100,200}
\curtains{\tD}
\flr
\end{axis}
% (e)
\begin{axis}[cube,at={(458.7pt,107.8pt)},x={(31.6pt,0pt)},y={(22.94pt,20.66pt)},z={(0pt,0.3575pt)},zmax=200]
\chrome{200}{0,10,...,200}{0,10,...,200}{-2,-1.8,...,2}{0,10,...,200}{0,100,200}
\curtains{\tE}
\flr
\end{axis}
% (f)
\begin{axis}[cube,at={(762.35pt,107.8pt)},x={(31.6pt,0pt)},y={(22.94pt,20.66pt)},z={(0pt,0.3575pt)},zmax=200]
\chrome{200}{0,10,...,200}{0,10,...,200}{-2,-1.8,...,2}{0,10,...,200}{0,100,200}
\curtains{\tF}
\flr
\end{axis}
% labels (a)
\tkr{134}{378}{50}\tkr{134}{434}{40}\tkr{134}{492}{30}\tkr{134}{548}{20}\tkr{134}{606}{10}\tkr{134}{663}{0}
\tkc{88}{712}{\EE{−2}{4}}\tkc{404}{706}{0}\tkc{612}{712}{\EE{2}{4}}
\tkc{764}{680}{\EE{−2}{4}}\tkc{856}{597}{\EE{−1}{4}}\tkc{890}{508}{0}\tkc{1030}{431}{\EE{1}{4}}\tkc{1123}{348}{\EE{2}{4}}
\ttl{165}{222}{|E\sbs{z}|, mV/m}\ttl{450}{755}{X, km}\tky{1092}{523}\capn{596}{858}{a}
% labels (b)
\tkr{1361}{405}{0.06}\tkr{1361}{487}{0.04}\tkr{1361}{568}{0.02}\tkr{1361}{650}{0.00}
\tkc{1323}{709}{\EE{−2}{4}}\tkc{1637}{701}{0}\tkc{1845}{709}{\EE{2}{4}}
\tkc{1976}{666}{\EE{−2}{4}}\tkc{2067}{586}{\EE{−1}{4}}\tkc{2101}{494}{0}\tkc{2242}{419}{\EE{1}{4}}\tkc{2325}{338}{\EE{2}{4}}
\ttl{1385}{221}{|H\sbs{x}|, nT}\ttl{1630}{746}{X, km}\tky{2235}{494}\capn{1814}{857}{b}
% labels (c)
\tkr{2574}{409}{0.06}\tkr{2574}{491}{0.04}\tkr{2574}{571}{0.02}\tkr{2574}{653}{0.00}
\tkc{2549}{709}{\EE{−2}{4}}\tkc{2863}{701}{0}\tkc{3070}{709}{\EE{2}{4}}
\tkc{3203}{675}{\EE{−2}{4}}\tkc{3295}{594}{\EE{−1}{4}}\tkc{3330}{500}{0}\tkc{3472}{425}{\EE{1}{4}}\tkc{3561}{345}{\EE{2}{4}}
\ttl{2560}{258}{|H\sbs{y}|, nT}\ttl{2801}{741}{X, km}\tky{3454}{523}\capn{3029}{858}{c}
% labels (d)
\tkr{157}{1338}{\EE{2}{−4}}\tkr{157}{1483}{\EE{1}{−4}}\tkr{154}{1617}{0}
\tkc{120}{1685}{\EE{−2}{4}}\tkc{433}{1676}{0}\tkc{640}{1685}{\EE{2}{4}}
\tkc{762}{1641}{\EE{−2}{4}}\tkc{853}{1559}{\EE{−1}{4}}\tkc{888}{1470}{0}\tkc{1026}{1391}{\EE{1}{4}}\tkc{1119}{1308}{\EE{2}{4}}
\ttl{239}{1157}{|E\sbs{z}|, mV/m}\ttl{389}{1720}{X, km}\tky{1046}{1480}\capn{596}{1826}{d}
% labels (e)
\tkr{1381}{1354}{\EE{2}{−4}}\tkr{1381}{1497}{\EE{1}{−4}}\tkr{1381}{1632}{0}
\tkc{1307}{1685}{\EE{−2}{4}}\tkc{1621}{1676}{0}\tkc{1830}{1685}{\EE{2}{4}}
\tkc{1981}{1649}{\EE{−2}{4}}\tkc{2073}{1567}{\EE{−1}{4}}\tkc{2108}{1476}{0}\tkc{2247}{1399}{\EE{1}{4}}\tkc{2340}{1317}{\EE{2}{4}}
\ttl{1422}{1201}{|H\sbs{x}|, nT}\ttl{1575}{1709}{X, km}\tky{2308}{1447}\capn{1812}{1826}{e}
% labels (f)
\tkr{2595}{1353}{\EE{2}{−4}}\tkr{2595}{1497}{\EE{1}{−4}}\tkr{2595}{1632}{0}
\tkc{2543}{1685}{\EE{−2}{4}}\tkc{2857}{1675}{0}\tkc{3063}{1685}{\EE{2}{4}}
\tkc{3207}{1649}{\EE{−2}{4}}\tkc{3299}{1569}{\EE{−1}{4}}\tkc{3334}{1476}{0}\tkc{3473}{1399}{\EE{1}{4}}\tkc{3565}{1317}{\EE{2}{4}}
\ttl{2612}{1192}{|H\sbs{y}|, nT}\ttl{2805}{1714}{X, km}\tky{3503}{1482}\capn{3029}{1826}{f}
\end{tikzpicture}
\end{document}
